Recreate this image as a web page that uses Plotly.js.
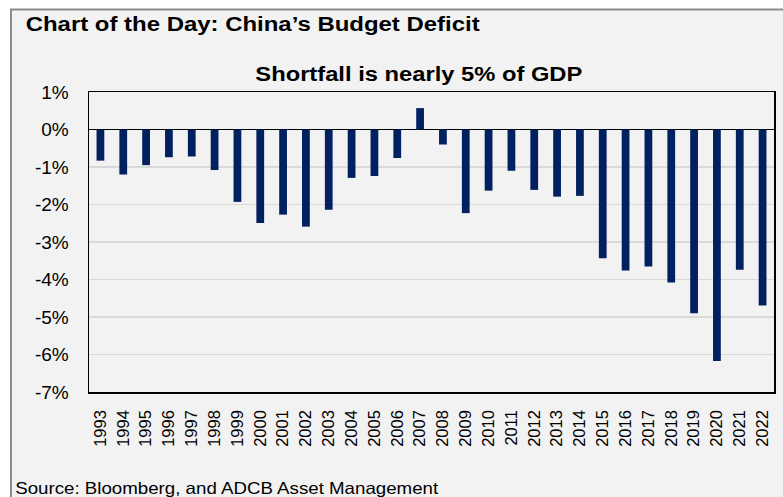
<!DOCTYPE html>
<html>
<head>
<meta charset="utf-8">
<script src="https://cdn.plot.ly/plotly-3.0.1.min.js"></script>
<style>
  html, body { margin: 0; padding: 0; background: #ffffff; }
  #chart { width: 783px; height: 497px; }
</style>
</head>
<body>
<div id="chart"></div>
<script>
const years = ["1993","1994","1995","1996","1997","1998","1999","2000","2001","2002",
               "2003","2004","2005","2006","2007","2008","2009","2010","2011","2012",
               "2013","2014","2015","2016","2017","2018","2019","2020","2021","2022"];
const deficitPctGdp = [-0.83,-1.20,-0.95,-0.74,-0.72,-1.08,-1.93,-2.49,-2.27,-2.59,
                       -2.14,-1.29,-1.24,-0.76,0.57,-0.40,-2.23,-1.63,-1.10,-1.61,
                       -1.79,-1.77,-3.43,-3.76,-3.65,-4.08,-4.90,-6.17,-3.74,-4.69];
const yTickValues = [1,0,-1,-2,-3,-4,-5,-6,-7];
const yTickLabels = ["1%","0%","-1%","-2%","-3%","-4%","-5%","-6%","-7%"];
const mainTitle = "Chart of the Day: China\u2019s Budget Deficit";
const subTitle = "Shortfall is nearly 5% of GDP";
const sourceText = "Source: Bloomberg, and ADCB Asset Management";

// plot area in pixels: left 89, right 774, top 92, bottom 392
const L = 89, R = 774, T = 92, B = 392, W = 783, H = 497;
const px = x => (x - L) / (R - L);
const py = y => (B - y) / (B - T);

const trace = {
  type: "bar",
  x: years,
  y: deficitPctGdp,
  marker: { color: "#002060", line: { width: 0 } },
  hoverinfo: "x+y"
};

// text blocks: [content, centre x px, centre y px, size, bold, stretched width px]
const textBlocks = [
  [mainTitle, 253, 23.5, 20, true, 454],
  [subTitle, 418.5, 74, 20, true, 327],
  [sourceText, 226.5, 488, 16.5, false, 423]
];

const layout = {
  width: W, height: H,
  margin: { l: L, r: W - R, t: T, b: H - B, pad: 0 },
  paper_bgcolor: "#f2f2f2",
  plot_bgcolor: "#f2f2f2",
  font: { family: "Liberation Sans, Arial, sans-serif", color: "#000000" },
  showlegend: false,
  bargap: 0.66,
  xaxis: {
    type: "category",
    tickangle: -90,
    tickfont: { size: 16.5, color: "#000000" },
    showline: true, linecolor: "#000000", linewidth: 1.5, mirror: true,
    showgrid: false, ticks: "", ticklabelstandoff: 10,
    zeroline: false
  },
  yaxis: {
    range: [-7, 1],
    tickvals: yTickValues,
    ticktext: yTickLabels,
    tickfont: { size: 19, color: "#000000" },
    showline: true, linecolor: "#000000", linewidth: 1.5, mirror: true,
    showgrid: true, gridcolor: "#d9d9d9", gridwidth: 1.3,
    zeroline: true, zerolinecolor: "#000000", zerolinewidth: 1.5,
    ticks: "", ticklabelstandoff: 15
  },
  shapes: [
    { type: "rect", xref: "paper", yref: "paper", x0: px(0), x1: px(W), y0: py(0), y1: py(9),
      fillcolor: "#ffffff", line: { width: 0 }, layer: "below" },
    { type: "rect", xref: "paper", yref: "paper", x0: px(0), x1: px(11), y0: py(0), y1: py(H),
      fillcolor: "#ffffff", line: { width: 0 }, layer: "below" },
    { type: "line", xref: "paper", yref: "paper", x0: px(10), x1: px(W), y0: py(9.5), y1: py(9.5),
      line: { color: "#8c8c8c", width: 2 } },
    { type: "line", xref: "paper", yref: "paper", x0: px(11), x1: px(11), y0: py(9), y1: py(H),
      line: { color: "#8c8c8c", width: 2 } }
  ],
  annotations: textBlocks.map(b => ({
    text: b[4] ? "<b>" + b[0] + "</b>" : b[0],
    xref: "paper", yref: "paper",
    x: px(b[1]), y: py(b[2]), xanchor: "center", yanchor: "middle", showarrow: false,
    font: { size: b[3], color: "#000000" }
  }))
};

Plotly.newPlot("chart", [trace], layout, { displayModeBar: false, staticPlot: true }).then(gd => {
  // the reference renders its text slightly wider than the font's natural width
  const texts = gd.querySelectorAll(".annotation-text");
  texts.forEach((t, i) => {
    if (textBlocks[i]) {
      t.setAttribute("textLength", textBlocks[i][5]);
      t.setAttribute("lengthAdjust", "spacingAndGlyphs");
    }
  });
});
</script>
</body>
</html>
